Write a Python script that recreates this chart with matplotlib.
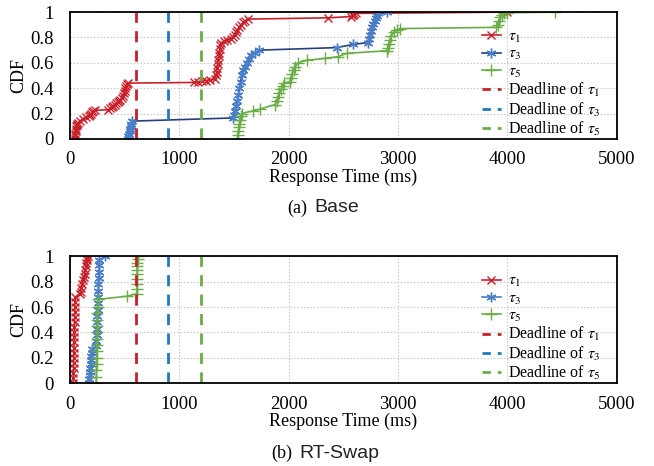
import matplotlib
matplotlib.use("Agg")
import matplotlib.pyplot as plt
from matplotlib.lines import Line2D

plt.rcParams["font.family"] = ["Liberation Serif", "DejaVu Serif"]
plt.rcParams["mathtext.fontset"] = "stix"

# --- data ---
# (a) Base
base_t1_x = [46, 48, 50, 52, 55, 58, 62, 66, 70, 90, 120, 150, 170, 185, 195, 205, 215, 230,
             350, 365, 380, 395, 410, 420, 435, 445, 460, 480, 488, 495, 500, 505, 510, 520, 530,
             1130, 1170, 1210, 1240, 1280, 1330, 1335, 1340, 1345, 1350, 1355, 1360, 1365, 1370,
             1375, 1385, 1410, 1440, 1470, 1495, 1505, 1515, 1530, 1545, 1565, 1585, 1605, 1630,
             2360, 2570, 2580, 2590, 2600, 2620, 4000]
base_t1_y = [0.0, 0.02, 0.04, 0.06, 0.08, 0.10, 0.11, 0.12, 0.125, 0.14, 0.16, 0.17, 0.18, 0.19,
             0.20, 0.21, 0.22, 0.225, 0.23, 0.24, 0.25, 0.26, 0.27, 0.28, 0.29, 0.30, 0.31, 0.32,
             0.34, 0.36, 0.38, 0.40, 0.42, 0.43, 0.44, 0.445, 0.45, 0.455, 0.46, 0.465, 0.47, 0.50,
             0.53, 0.56, 0.59, 0.62, 0.65, 0.68, 0.71, 0.74, 0.76, 0.77, 0.78, 0.79, 0.80, 0.82,
             0.84, 0.86, 0.88, 0.90, 0.92, 0.93, 0.945, 0.955, 0.965, 0.975, 0.98, 0.985, 0.99, 1.0]

base_t3_x = [530, 535, 540, 545, 550, 555, 560, 570, 1490, 1500, 1510, 1520, 1530, 1540, 1550,
             1560, 1570, 1585, 1600, 1620, 1640, 1660, 1690, 1730, 2440, 2590, 2725, 2735, 2745,
             2755, 2765, 2775, 2785, 2795, 2805, 2815, 2900]
base_t3_y = [0.0, 0.02, 0.04, 0.06, 0.08, 0.10, 0.12, 0.14, 0.165, 0.19, 0.22, 0.26, 0.30, 0.35,
             0.40, 0.45, 0.50, 0.54, 0.57, 0.60, 0.63, 0.66, 0.68, 0.70, 0.72, 0.745, 0.76, 0.79,
             0.82, 0.85, 0.88, 0.91, 0.93, 0.95, 0.97, 0.99, 1.0]

base_t5_x = [1530, 1535, 1540, 1545, 1550, 1555, 1560, 1570, 1670, 1735, 1875, 1890, 1900, 1915,
             1930, 1945, 1960, 2010, 2020, 2030, 2045, 2060, 2085, 2165, 2330, 2450, 2530, 2900,
             2905, 2915, 2925, 2940, 2960, 2990, 3020, 3900, 3910, 3920, 3935, 3950, 3965, 4000,
             4440]
base_t5_y = [0.0, 0.03, 0.06, 0.09, 0.12, 0.15, 0.18, 0.20, 0.22, 0.235, 0.27, 0.30, 0.33, 0.36,
             0.39, 0.42, 0.44, 0.45, 0.48, 0.51, 0.54, 0.57, 0.60, 0.62, 0.635, 0.648, 0.675,
             0.695, 0.72, 0.75, 0.78, 0.81, 0.84, 0.86, 0.87, 0.88, 0.90, 0.93, 0.96, 0.98, 0.99,
             0.995, 1.0]

# (b) RT-Swap
swap_t1_x = [30, 31, 32, 33, 34, 35, 36, 37, 38, 39, 40, 41, 42, 43, 44, 45, 46, 50, 90, 97, 104,
             111, 118, 125, 135, 140, 145, 150, 155, 160, 165]
swap_t1_y = [0.0, 0.04, 0.08, 0.12, 0.16, 0.20, 0.24, 0.28, 0.32, 0.36, 0.40, 0.44, 0.48, 0.52,
             0.56, 0.60, 0.64, 0.68, 0.70, 0.72, 0.75, 0.78, 0.81, 0.84, 0.86, 0.89, 0.92, 0.95,
             0.97, 0.99, 1.0]

swap_t3_x = [175, 178, 181, 184, 187, 190, 193, 196, 200, 205, 240, 242, 244, 246, 248, 250, 252,
             254, 256, 258, 260, 262, 264, 266, 268, 320]
swap_t3_y = [0.0, 0.03, 0.06, 0.09, 0.12, 0.15, 0.18, 0.21, 0.24, 0.27, 0.29, 0.33, 0.38, 0.43,
             0.48, 0.53, 0.58, 0.63, 0.68, 0.73, 0.78, 0.83, 0.88, 0.93, 0.97, 1.0]

swap_t5_x = [240, 241, 242, 243, 244, 245, 246, 247, 248, 249, 250, 251, 252, 254, 520, 610, 611,
             612, 613, 614, 615, 616, 617, 618, 619]
swap_t5_y = [0.0, 0.05, 0.10, 0.15, 0.20, 0.25, 0.30, 0.35, 0.40, 0.45, 0.50, 0.55, 0.60, 0.66,
             0.685, 0.705, 0.74, 0.78, 0.82, 0.86, 0.89, 0.92, 0.95, 0.98, 1.0]

deadlines = [600, 900, 1200]
task_names = [r"$\tau_1$", r"$\tau_3$", r"$\tau_5$"]
xticks = [0, 1000, 2000, 3000, 4000, 5000]
yticks = [0, 0.2, 0.4, 0.6, 0.8, 1]

red = "#c8202b"
blue = "#4a7ec8"
navy = "#243f7a"
green = "#6aac46"
dl_colors = ["#c8202b", "#1f78c1", "#6aac46"]

fig = plt.figure(figsize=(6.54, 4.66), dpi=100)
ax1 = fig.add_axes([0.107, 0.702, 0.836, 0.272])
ax2 = fig.add_axes([0.107, 0.178, 0.836, 0.272])


def draw(ax, series, blue_line):
    (t1x, t1y), (t3x, t3y), (t5x, t5y) = series
    h1, = ax.plot(t1x, t1y, color=red, marker="x", ms=6, mew=1, lw=1.2)
    h3, = ax.plot(t3x, t3y, color=blue_line, marker=(6, 2, 0), ms=7, mew=1,
                  mec=blue, mfc=blue, lw=1.2)
    h5, = ax.plot(t5x, t5y, color=green, marker="+", ms=8, mew=1, lw=1.2)
    for d, c in zip(deadlines, dl_colors):
        ax.axvline(d, color=c, ls=(0, (4, 3)), lw=2)
    handles = [h1, h3, h5] + [Line2D([], [], color=c, ls=(0, (3, 2.5)), lw=2) for c in dl_colors]
    labels = task_names + ["Deadline of " + t for t in task_names]
    ax.legend(handles, labels, loc="upper left", bbox_to_anchor=(0.75, 0.88), frameon=False,
              fontsize=11.5, handlelength=1.2, handletextpad=0.45, labelspacing=0.08,
              borderpad=0.1, borderaxespad=0)
    ax.set_xlim(0, 5000)
    ax.set_ylim(0, 1)
    ax.set_xticks(xticks)
    ax.set_yticks(yticks)
    ax.set_yticklabels(["0", "0.2", "0.4", "0.6", "0.8", "1"])
    ax.tick_params(length=0, labelsize=13.5)
    ax.tick_params(axis="x", pad=9)
    ax.tick_params(axis="y", pad=12)
    ax.grid(True, color="#cccccc", ls=(0, (1.5, 1.5)), lw=0.8)
    for s in ax.spines.values():
        s.set_color("black")
        s.set_linewidth(1.3)
    ax.set_ylabel("CDF", fontsize=13, labelpad=2)
    ax.set_xlabel("Response Time (ms)", fontsize=13, labelpad=0)


draw(ax1, [(base_t1_x, base_t1_y), (base_t3_x, base_t3_y), (base_t5_x, base_t5_y)], navy)
draw(ax2, [(swap_t1_x, swap_t1_y), (swap_t3_x, swap_t3_y), (swap_t5_x, swap_t5_y)], blue)

# captions: serif label + sans title
fig.text(307 / 654, 1 - 208 / 466, "(a)", ha="right", va="center", fontsize=13)
fig.text(314 / 654, 1 - 208 / 466, "Base", ha="left", va="center", fontsize=14,
         family="Liberation Sans", color="#222222")
fig.text(292 / 654, 1 - 453 / 466, "(b)", ha="right", va="center", fontsize=13)
fig.text(299 / 654, 1 - 453 / 466, "RT-Swap", ha="left", va="center", fontsize=14,
         family="Liberation Sans", color="#222222")

fig.savefig("out.png", dpi=100)
